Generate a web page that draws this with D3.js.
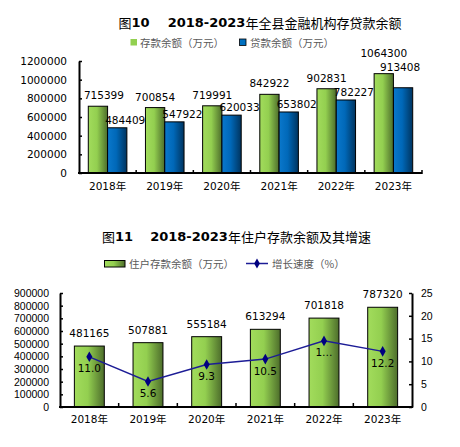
<!DOCTYPE html>
<html><head><meta charset="utf-8">
<script src="https://cdn.jsdelivr.net/npm/d3@7/dist/d3.min.js"></script>
<style>
html,body{margin:0;padding:0;background:#fff;}
svg{display:block;font-family:"DejaVu Sans","Noto Sans CJK SC",sans-serif;}
</style></head>
<body>
<svg id="c" width="460" height="447"></svg>
<script>
// ---- data ----
const years = ["2018年","2019年","2020年","2021年","2022年","2023年"];
const deposits = [715399, 700854, 719991, 842922, 902831, 1064300];
const loans = [484409, 547922, 620033, 653802, 782227, 913408];
const householdDeposits = [481165, 507881, 555184, 613294, 701818, 787320];
const growthRate = [11.0, 5.6, 9.3, 10.5, 14.5, 12.2];
const growthLabels = ["11.0", "5.6", "9.3", "10.5", "1…", "12.2"];
const chart1Ticks = [0, 200000, 400000, 600000, 800000, 1000000, 1200000];
const chart2LeftTicks = [0,100000,200000,300000,400000,500000,600000,700000,800000,900000];
const chart2RightTicks = [0,5,10,15,20,25];
const legend1 = ["存款余额（万元）", "贷款余额（万元）"];
const legend2 = ["住户存款余额（万元）", "增长速度（%）"];

const svg = d3.select("#c");
const defs = svg.append("defs");
function grad(id, stops){
  const g = defs.append("linearGradient").attr("id", id).attr("x1","0%").attr("x2","100%").attr("y1","0%").attr("y2","0%");
  stops.forEach(s => g.append("stop").attr("offset", s[0]).attr("stop-color", s[1]));
}
grad("gGreen", [["0%","#a2dc5c"],["45%","#93cf50"],["100%","#4d6d2b"]]);
grad("gBlue", [["0%","#0a78cc"],["45%","#0068b8"],["100%","#00345f"]]);

const numFont = 10.5;
const cjk = '"Noto Sans CJK SC","DejaVu Sans",sans-serif';

function title(x, y, fig, gap) {
  const t = svg.append("text").attr("x", x).attr("y", y).attr("text-anchor","middle")
    .attr("font-size", 13).attr("fill","#000").attr("dominant-baseline","central");
  t.append("tspan").attr("font-family", cjk).text("图");
  t.append("tspan").attr("font-weight","bold").text(fig);
  t.append("tspan").attr("font-weight","bold").attr("dx", gap).text("2018-2023");
  t.append("tspan").attr("font-family", cjk).text(fig === "10" ? "年全县金融机构存贷款余额" : "年住户存款余额及其增速");
}

// ================= Chart 1 =================
title(260, 22, "10", 18);
{
  const left = 79, right = 422, top = 61, bottom = 173;
  const x0 = d3.scaleBand().domain(years).range([left, right]).paddingInner(0.325).paddingOuter(0.1625);
  const x1 = d3.scaleBand().domain(["d","l"]).range([0, x0.bandwidth()]);
  const y = d3.scaleLinear().domain([0, 1200000]).range([bottom, top]);

  // legend
  const lg = svg.append("g");
  lg.append("rect").attr("x",130.5).attr("y",39).attr("width",6.5).attr("height",6.5).attr("fill","#92d050");
  lg.append("text").attr("x",140).attr("y",42.7).attr("dominant-baseline","central").attr("font-family",cjk)
    .attr("font-size",10.5).attr("fill","#595959").text(legend1[0]);
  lg.append("rect").attr("x",239.5).attr("y",39).attr("width",6.5).attr("height",6.5).attr("fill","#0070c0").attr("stroke","#000").attr("stroke-width",0.8);
  lg.append("text").attr("x",250).attr("y",42.7).attr("dominant-baseline","central").attr("font-family",cjk)
    .attr("font-size",10.5).attr("fill","#595959").text(legend1[1]);

  const g = svg.append("g");
  const rows = years.map((yr,i)=>({yr, d:deposits[i], l:loans[i], i}));
  // bars
  rows.forEach(r => {
    g.append("rect").attr("x", x0(r.yr)+x1("d")).attr("y", y(r.d)).attr("width", x1.bandwidth()).attr("height", y(0)-y(r.d))
      .attr("fill","url(#gGreen)").attr("stroke","#000").attr("stroke-width",1);
    g.append("rect").attr("x", x0(r.yr)+x1("l")).attr("y", y(r.l)).attr("width", x1.bandwidth()).attr("height", y(0)-y(r.l))
      .attr("fill","url(#gBlue)").attr("stroke","#000").attr("stroke-width",1);
  });
  // labels
  const last = years.length - 1;
  rows.forEach(r => {
    const cxD = x0(r.yr)+x1("d")+x1.bandwidth()/2;
    const cxL = x0(r.yr)+x1("l")+x1.bandwidth()/2;
    const extra = r.i === last ? 10 : 0;
    g.append("text").attr("x", cxD + (r.i===0?6:0)).attr("y", y(r.d)-11-extra).attr("text-anchor","middle")
      .attr("dominant-baseline","central").attr("font-size",numFont).attr("fill","#000").text(r.d);
    g.append("text").attr("x", cxL + (r.i===last?-3:8)).attr("y", y(r.l)-8-(r.i===last?13:0)).attr("text-anchor","middle")
      .attr("dominant-baseline","central").attr("font-size",numFont).attr("fill","#000").text(r.l);
  });
  // y axis
  const ya = g.append("g").attr("transform",`translate(${left},0)`)
    .call(d3.axisLeft(y).tickValues(chart1Ticks).tickSizeInner(-3).tickSizeOuter(0).tickPadding(12).tickFormat(d3.format("d")));
  ya.select(".domain").attr("stroke","#000").attr("stroke-width",2);
  ya.selectAll(".tick line").attr("stroke","#000").attr("stroke-width",1.5);
  ya.selectAll("text").attr("font-size",numFont).attr("fill","#000").attr("font-family","DejaVu Sans");
  // x axis
  const xa = g.append("g").attr("transform",`translate(0,${bottom})`);
  xa.append("line").attr("x1",left-1).attr("x2",right).attr("y1",0).attr("y2",0).attr("stroke","#000").attr("stroke-width",2);
  const bounds = d3.range(years.length+1).map(k => left + k*x0.step()*1 - (k===0?0:0));
  d3.range(1, years.length+1).forEach(k => {
    const bx = x0(years[k-1]) + x0.bandwidth() + x0.step()*x0.paddingInner()/2;
    xa.append("line").attr("x1",bx).attr("x2",bx).attr("y1",-3).attr("y2",1).attr("stroke","#000").attr("stroke-width",1.5);
  });
  years.forEach(yr => {
    xa.append("text").attr("x", x0(yr)+x0.bandwidth()/2).attr("y", 13).attr("text-anchor","middle")
      .attr("dominant-baseline","central").attr("font-size",numFont).attr("fill","#000").text(yr);
  });
}

// ================= Chart 2 =================
title(236.5, 236, "11", 17);
{
  const left = 60, right = 412, top = 293, bottom = 407;
  const x = d3.scaleBand().domain(years).range([left, right]).paddingInner(0.49).paddingOuter(0.245);
  const yL = d3.scaleLinear().domain([0, 900000]).range([bottom, top]);
  const yR = d3.scaleLinear().domain([0, 25]).range([bottom, top]);
  const lineColor = "#1c1c96";

  // legend
  const lg = svg.append("g");
  lg.append("rect").attr("x",104.5).attr("y",260.5).attr("width",20.5).attr("height",6.5).attr("fill","url(#gGreen)").attr("stroke","#000").attr("stroke-width",1);
  lg.append("text").attr("x",129).attr("y",263.5).attr("dominant-baseline","central").attr("font-family",cjk)
    .attr("font-size",10.5).attr("fill","#595959").text(legend2[0]);
  lg.append("line").attr("x1",246).attr("x2",268).attr("y1",263.5).attr("y2",263.5).attr("stroke",lineColor).attr("stroke-width",1.5);
  lg.append("path").attr("d", d3.symbol(d3.symbolDiamond, 28)()).attr("transform","translate(257,263.5)").attr("fill","#000080");
  lg.append("text").attr("x",272).attr("y",263.5).attr("dominant-baseline","central").attr("font-family",cjk)
    .attr("font-size",10.5).attr("fill","#595959").text(legend2[1]);

  const g = svg.append("g");
  years.forEach((yr,i) => {
    g.append("rect").attr("x", x(yr)).attr("y", yL(householdDeposits[i])).attr("width", x.bandwidth())
      .attr("height", yL(0)-yL(householdDeposits[i])).attr("fill","url(#gGreen)").attr("stroke","#000").attr("stroke-width",1);
    g.append("text").attr("x", x(yr)+x.bandwidth()/2).attr("y", yL(householdDeposits[i])-13).attr("text-anchor","middle")
      .attr("dominant-baseline","central").attr("font-size",numFont).attr("fill","#000").text(householdDeposits[i]);
  });
  const line = d3.line().x((d,i)=>x(years[i])+x.bandwidth()/2).y(d=>yR(d));
  g.append("path").datum(growthRate).attr("d", line).attr("fill","none").attr("stroke",lineColor).attr("stroke-width",1.5);
  growthRate.forEach((v,i) => {
    const cx = x(years[i])+x.bandwidth()/2;
    g.append("path").attr("d", d3.symbol(d3.symbolDiamond, 32)()).attr("transform",`translate(${cx},${yR(v)})`).attr("fill","#000080");
    g.append("text").attr("x", cx).attr("y", yR(v)+11.5).attr("text-anchor","middle")
      .attr("dominant-baseline","central").attr("font-size",numFont).attr("fill","#000").text(growthLabels[i]);
  });

  const ya = g.append("g").attr("transform",`translate(${left},0)`)
    .call(d3.axisLeft(yL).tickValues(chart2LeftTicks).tickSizeInner(-3).tickSizeOuter(0).tickPadding(11).tickFormat(d3.format("d")));
  ya.select(".domain").attr("stroke","#000").attr("stroke-width",2);
  ya.selectAll(".tick line").attr("stroke","#000").attr("stroke-width",1.5);
  ya.selectAll("text").attr("font-size",numFont).attr("fill","#000");

  const yb = g.append("g").attr("transform",`translate(${right},0)`)
    .call(d3.axisRight(yR).tickValues(chart2RightTicks).tickSizeInner(-3).tickSizeOuter(0).tickPadding(9));
  yb.select(".domain").attr("stroke","#000").attr("stroke-width",2);
  yb.selectAll(".tick line").attr("stroke","#000").attr("stroke-width",1.5);
  yb.selectAll("text").attr("font-size",numFont).attr("fill","#000");

  const xa = g.append("g").attr("transform",`translate(0,${bottom})`);
  xa.append("line").attr("x1",left-1).attr("x2",right+1).attr("y1",0).attr("y2",0).attr("stroke","#000").attr("stroke-width",2);
  d3.range(1, years.length).forEach(k => {
    const bx = x(years[k-1]) + x.bandwidth() + x.step()*x.paddingInner()/2;
    xa.append("line").attr("x1",bx).attr("x2",bx).attr("y1",-4).attr("y2",0).attr("stroke","#000").attr("stroke-width",1.5);
  });
  years.forEach(yr => {
    xa.append("text").attr("x", x(yr)+x.bandwidth()/2).attr("y", 12).attr("text-anchor","middle")
      .attr("dominant-baseline","central").attr("font-size",numFont).attr("fill","#000").text(yr);
  });
}
</script>
</body></html>
